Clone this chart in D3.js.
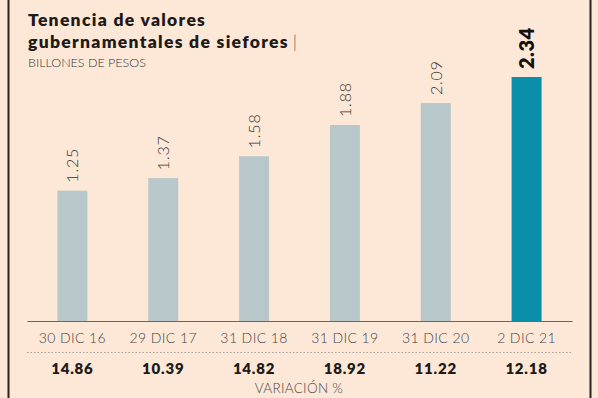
<!DOCTYPE html>
<html>
<head>
<meta charset="utf-8">
<script src="https://cdn.jsdelivr.net/npm/d3@7"></script>
<style>
  html, body { margin: 0; padding: 0; background: #fde8d8; }
  svg { display: block; font-family: Lato, "DejaVu Sans", sans-serif; }
</style>
</head>
<body>
<div id="chart"></div>
<script>
// data
const categories = ["30 DIC 16", "29 DIC 17", "31 DIC 18", "31 DIC 19", "31 DIC 20", "2 DIC 21"];
const values = [1.25, 1.37, 1.58, 1.88, 2.09, 2.34];
const variation = ["14.86", "10.39", "14.82", "18.92", "11.22", "12.18"];

const width = 598, height = 398;
const baseY = 321;

const svg = d3.select("#chart").append("svg")
	.attr("width", width)
	.attr("height", height);

svg.append("rect").attr("width", width).attr("height", height).attr("fill", "#fde8d8");

/* frame lines left and right */
svg.append("line").attr("x1", 8.5).attr("x2", 8.5).attr("y1", 0).attr("y2", height)
	.attr("stroke", "#2a2320").attr("stroke-width", 2);
svg.append("line").attr("x1", 590.5).attr("x2", 590.5).attr("y1", 0).attr("y2", height)
	.attr("stroke", "#2a2320").attr("stroke-width", 2);

/* titles */
const title = svg.append("text").attr("x", 28).attr("y", 26)
	.attr("font-size", 17.5).attr("font-weight", 800).attr("fill", "#1e1a18")
	.attr("letter-spacing", 1.3);
title.append("tspan").attr("x", 28).attr("y", 26).text("Tenencia de valores");
title.append("tspan").attr("x", 28).attr("y", 48).text("gubernamentales de siefores");
title.append("tspan").attr("font-weight", 300).attr("dx", 4).attr("fill", "#555").text("|");

svg.append("text").attr("x", 28).attr("y", 67)
	.attr("font-size", 12.5).attr("font-weight", 300).attr("fill", "#333")
	.text("BILLONES DE PESOS");

/* scales */
const x = d3.scaleBand().domain(categories).range([27, 572]).paddingInner(0.67).paddingOuter(0.335);
const y = d3.scaleLinear().domain([0, 2.34]).range([baseY, 77]);

const last = categories.length - 1;

svg.append("g").selectAll("rect")
	.data(values)
	.join("rect")
	.attr("x", (d, i) => x(categories[i]))
	.attr("width", x.bandwidth())
	.attr("y", d => y(d))
	.attr("height", d => baseY - y(d))
	.attr("fill", (d, i) => i === last ? "#0a8ea9" : "#b8c7c9");

/* rotated value labels */
svg.append("g").selectAll("text")
	.data(values)
	.join("text")
	.attr("transform", (d, i) => `translate(${x(categories[i]) + x.bandwidth() / 2 + (i === last ? 7 : 6)},${y(d) - 8}) rotate(-90)`)
	.attr("font-size", (d, i) => i === last ? 20 : 16)
	.attr("font-weight", (d, i) => i === last ? 800 : 300)
	.attr("letter-spacing", (d, i) => i === last ? 0.5 : 0.8)
	.attr("fill", (d, i) => i === last ? "#111" : "#333")
	.text(d => d.toFixed(2));

/* baseline axis */
const axis = svg.append("g").attr("transform", `translate(0,${baseY})`)
	.call(d3.axisBottom(x).tickSize(0).tickPadding(12));
axis.select(".domain").attr("stroke", "#6b6460").attr("stroke-width", 1.2);
axis.selectAll("text")
	.attr("font-family", "Lato, 'DejaVu Sans', sans-serif")
	.attr("font-size", 14).attr("font-weight", 300).attr("fill", "#444")
	.attr("letter-spacing", 0.4);

/* dotted separator */
svg.append("line").attr("x1", 27).attr("x2", 572).attr("y1", 352.5).attr("y2", 352.5)
	.attr("stroke", "#a8a09a").attr("stroke-width", 1).attr("stroke-dasharray", "1.5,2");

svg.append("g").selectAll("text")
	.data(variation)
	.join("text")
	.attr("x", (d, i) => x(categories[i]) + x.bandwidth() / 2)
	.attr("y", 374)
	.attr("text-anchor", "middle")
	.attr("font-size", 15).attr("font-weight", 800).attr("fill", "#1e1a18")
	.attr("letter-spacing", 0.8)
	.text(d => d);

svg.append("text").attr("x", 299).attr("y", 393)
	.attr("text-anchor", "middle")
	.attr("font-size", 13.5).attr("font-weight", 300).attr("fill", "#444")
	.attr("letter-spacing", 0.3)
	.text("VARIACIÓN %");
</script>
</body>
</html>
